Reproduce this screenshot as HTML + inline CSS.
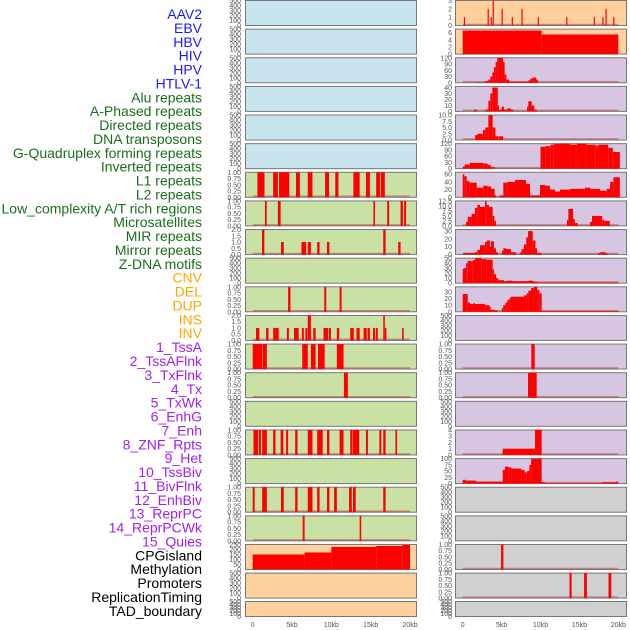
<!DOCTYPE html>
<html><head><meta charset="utf-8"><style>
html,body{margin:0;padding:0;background:#fff;}
svg{display:block;font-family:"Liberation Sans",sans-serif;}
</style></head><body>
<svg id="chart" width="630" height="630" viewBox="0 0 630 630"></svg>
<script>
// ---- labels ----
const labelTexts = ["AAV2","EBV","HBV","HIV","HPV","HTLV-1","Alu repeats","A-Phased repeats","Directed repeats","DNA transposons","G-Quadruplex forming repeats","Inverted repeats","L1 repeats","L2 repeats","Low_complexity A/T rich regions","Microsatellites","MIR repeats","Mirror repeats","Z-DNA motifs","CNV","DEL","DUP","INS","INV","1_TssA","2_TssAFlnk","3_TxFlnk","4_Tx","5_TxWk","6_EnhG","7_Enh","8_ZNF_Rpts","9_Het","10_TssBiv","11_BivFlnk","12_EnhBiv","13_ReprPC","14_ReprPCWk","15_Quies","CPGisland","Methylation","Promoters","ReplicationTiming","TAD_boundary"];
const labelGroups = [6,13,5,15,5];
const groupColors = ["#1a1aff","#1a6e1a","#ffa500","#a020f0","#000000"];
// ---- x axis ----
const xTicks = [0,5,10,15,20];
const xTickLabels = ["0","5kb","10kb","15kb","20kb"];
// ---- tick label sets ----
const t500 = ["0","100","200","300","400","500"];
const t1 = ["0.00","0.25","0.50","0.75","1.00"];
const t2 = ["0.0","0.5","1.0","1.5","2.0"];
// ---- left column series [startKb, endKb, value] ----
const L6 = [[0.6,1.5,1],[2.6,3.2,1],[3.35,4.65,1],[5.5,6.0,1],[7.0,7.6,1],[9.2,9.7,1],[10.5,10.9,1],[12.8,13.6,1],[14.4,14.9,1],[15.7,16.2,1],[16.3,16.8,1]];
const L7 = [[1.56,1.78,1],[3.2,3.55,1],[15.35,15.55,1],[17.1,17.35,1],[18.8,19.1,1],[19.25,19.5,1]];
const L8 = [[1.18,1.48,2],[3.6,3.95,1],[6.2,6.8,1],[7.0,7.4,1],[8.2,8.5,1],[9.45,9.75,1],[16.6,16.9,2],[18.5,18.8,1]];
const L10 = [[4.5,4.8,1],[9.1,9.35,1],[11.05,11.3,1]];
const L11 = [[0.42,0.85,1],[1.7,2.0,1],[2.6,3.3,1],[4.35,4.6,1],[5.25,5.85,1],[6.25,6.5,1],[6.7,6.95,1],[7.0,7.4,2],[7.7,8.0,1],[9.0,9.6,1],[9.7,9.95,1],[10.7,11.0,1],[12.4,12.85,1],[13.2,13.6,1],[14.1,14.5,1],[14.6,14.9,1],[15.3,15.55,1],[15.65,15.9,1],[16.6,16.8,2],[16.8,17.0,1],[19.0,19.2,1]];
const L12 = [[0,1.2,1],[1.25,1.8,1],[6.3,7.0,1],[7.4,8.0,1],[8.3,9.15,1],[10.7,11.55,1]];
const L13 = [[11.6,12.1,1]];
const L15 = [[0.1,0.7,1],[0.8,1.05,1],[1.2,1.8,1],[2.6,2.9,1],[3.55,3.9,1],[4.25,4.5,1],[5.4,5.7,1],[7.0,7.6,1],[8.2,8.9,1],[9.45,9.75,1],[11.05,11.55,1],[12.4,12.7,1],[12.75,13.55,1],[14.4,14.65,1],[16.1,16.35,1],[16.6,16.9,1],[18.15,18.35,1]];
const L17 = [[0,0.25,1],[1.2,1.8,1],[3.6,3.95,1],[5.4,5.7,1],[7.0,7.6,1],[8.2,8.5,1],[9.45,9.75,1],[10.35,10.7,1],[12.25,12.6,1],[12.75,13.1,1],[16.6,16.9,1]];
const L18 = [[6.35,6.6,1],[13.6,13.8,1]];
const L19 = [[0,6.6,150],[6.6,10,170],[10,15.7,225],[15.7,19,235],[19,20,245]];
// ---- right column series ----
const R0 = [[0.15,0.3,1],[3.2,3.35,2],[3.6,3.75,1],[3.85,4.0,3],[5.0,5.15,2],[6.3,6.45,1],[7.55,7.7,2],[9.65,9.8,1],[13.3,13.45,1],[16.85,17.0,1],[17.95,18.1,1],[18.35,18.5,2],[19.35,19.5,1]];
const R1 = [[0,10.15,6.6],[10.15,20,5.5]];
const R2 = [[1.84,2.1,3],[2.61,2.91,3],[2.91,3.3,8],[3.3,3.55,15],[3.55,3.81,30],[3.81,4.02,50],[4.02,4.24,75],[4.24,4.45,100],[4.45,5.18,120],[5.18,5.39,100],[5.39,5.61,40],[5.61,5.99,15],[5.99,8.44,5],[8.44,8.69,12],[8.69,8.95,20],[8.95,9.46,25],[9.46,9.68,15]];
const R3 = [[1.45,1.8,3],[2.9,3.3,3],[3.3,3.55,18],[3.55,3.81,30],[3.81,4.5,40],[4.5,4.66,10],[4.66,5.0,3],[5.0,5.3,8],[5.3,5.7,3],[5.73,6.17,5],[6.17,6.5,3],[8.27,8.44,8],[8.44,8.87,17],[8.87,9.2,10],[9.2,9.5,3]];
const R4 = [[1.6,1.9,2],[1.9,2.6,2.5],[2.6,2.9,4],[2.9,3.3,5],[3.3,3.85,10],[3.85,4.2,5],[4.2,4.6,1.5],[4.66,5.2,1.5]];
const R5 = [[0,0.25,10],[0.25,0.9,20],[0.9,2.65,28],[2.65,3.2,25],[3.2,3.6,18],[3.6,4.1,8],[10,10.6,105],[10.6,11.3,108],[11.3,11.7,115],[11.7,13.8,120],[13.8,14.7,115],[14.7,15.9,120],[15.9,17.1,115],[17.1,17.45,110],[17.45,18.7,115],[18.7,19.3,100],[19.3,20.2,80]];
const R6 = [[0,0.21,60],[0.21,0.51,55],[0.51,0.85,42],[0.85,1.8,38],[1.8,2.65,25],[2.65,3.21,30],[3.21,3.64,28],[3.64,4.11,22],[4.11,4.28,5],[4.79,5.22,5],[5.22,5.74,38],[5.74,6.72,40],[6.72,8.14,45],[8.14,8.65,35],[8.65,9.94,5],[9.94,10.58,32],[10.58,11.22,30],[11.22,11.87,20],[11.87,12.51,15],[12.51,13.8,20],[13.8,15.72,22],[15.72,16.37,25],[16.37,17.65,22],[17.65,18.51,17],[18.51,18.94,22],[18.94,19.37,40],[19.37,20.2,52]];
const R7 = [[0.42,0.64,2],[0.64,1.15,4.5],[1.15,1.58,6],[1.58,1.88,9],[1.88,2.22,10.5],[2.22,2.87,9.5],[2.87,3.08,12.5],[3.08,3.38,10.5],[3.38,3.85,9.5],[3.85,4.07,5],[4.07,4.28,2.5],[13.4,13.58,3],[13.58,14.18,8.5],[14.18,14.4,3.5],[14.4,14.78,1.5],[16.36,16.62,2],[16.62,17.94,5],[17.94,18.2,3],[18.2,18.9,2.5]];
const R8 = [[0.08,1.58,2],[1.58,1.88,3],[1.88,2.22,6],[2.22,2.87,12],[2.87,3.08,16],[3.08,3.5,18],[3.5,3.63,10],[3.63,4.02,17],[4.02,4.28,8],[4.28,4.5,3],[5.05,5.22,5],[5.22,5.57,8],[5.57,6.2,7],[6.2,6.85,3],[7.4,7.57,3],[7.57,7.87,7],[7.87,8.17,13],[8.17,8.4,22],[8.4,9.0,30],[9.0,9.35,18],[9.35,9.56,8],[9.56,10.15,2],[17.4,17.7,2],[17.7,18.3,3],[18.3,18.6,2]];
const R9 = [[0,0.1,28],[0.1,0.43,30],[0.43,0.64,40],[0.64,0.94,45],[0.94,1.28,44],[1.28,1.58,46],[1.58,2.45,50],[2.45,3.08,48],[3.08,3.85,47],[3.85,4.02,28],[4.02,4.28,18],[4.28,4.58,10],[4.58,5.31,6],[5.31,5.66,4],[5.66,6.43,5],[6.43,8.44,4],[8.44,9.08,5],[9.08,9.6,3],[9.6,20,1.5]];
const R10 = [[0,0.64,27],[0.64,0.94,14],[0.94,1.37,12],[1.37,1.58,13],[1.58,2.87,12],[2.87,3.42,10],[3.42,3.59,8],[3.59,4.11,3],[4.11,4.5,2],[5.05,5.22,6],[5.22,5.48,10],[5.48,5.74,14],[5.74,6.0,18],[6.0,6.2,21],[6.2,7.88,23],[7.88,8.22,25],[8.22,8.44,28],[8.44,8.78,32],[8.78,9.16,36],[9.16,9.6,38],[9.6,9.85,33],[9.85,10.15,28],[10.15,20,1]];
const R12 = [[8.82,9.25,1]];
const R13 = [[8.39,9.51,1]];
const R15 = [[5.14,9.29,1],[9.29,10.15,4]];
const R16 = [[0,0.4,15],[0.4,1.7,12],[1.7,5.14,8],[5.14,5.44,55],[5.44,5.85,68],[5.85,6.28,65],[6.28,7.5,60],[7.5,7.94,55],[7.94,8.24,45],[8.24,8.58,50],[8.58,8.8,75],[8.8,10.15,100],[10.15,10.6,5],[10.6,17.9,2],[17.9,19.7,5],[19.7,20,8]];
const R19 = [[4.93,5.23,1]];
const R20 = [[13.73,14.0,1],[15.6,15.96,1],[18.74,19.1,1]];

const leftCfg = [
 [null,500,t500,"#c8e4ec"],[null,500,t500,"#c8e4ec"],[null,500,t500,"#c8e4ec"],[null,500,t500,"#c8e4ec"],[null,500,t500,"#c8e4ec"],[null,500,t500,"#c8e4ec"],
 [L6,1,t1,"#c9e1a4"],[L7,1,t1,"#c9e1a4"],[L8,2,t2,"#c9e1a4"],[null,500,t500,"#c9e1a4"],[L10,1,t1,"#c9e1a4"],[L11,2,t2,"#c9e1a4"],[L12,1,t1,"#c9e1a4"],[L13,1,t1,"#c9e1a4"],[null,500,t500,"#c9e1a4"],
 [L15,1,t1,"#c9e1a4"],[null,500,t500,"#c9e1a4"],[L17,1,t1,"#c9e1a4"],[L18,1,t1,"#c9e1a4"],
 [L19,250,["0","50","100","150","200","250"],"#fdd09e"],[null,500,t500,"#fdd09e"],[null,500,t500,"#fdd09e"]
];
const P="#d6c6e1", G="#d0d0d0";
const rightCfg = [
 [R0,3,["0","1","2","3"],"#fdd09e"],[R1,7,["0","2","4","6"],"#fdd09e"],
 [R2,120,["0","30","60","90","120"],P],[R3,42,["0","10","20","30","40"],P],[R4,10,["0.0","2.5","5.0","7.5","10.0"],P],
 [R5,120,["0","30","60","90","120"],P],[R6,65,["0","20","40","60"],P],[R7,12.5,["0.0","2.5","5.0","7.5","10.0","12.5"],P],
 [R8,32,["0","10","20","30"],P],[R9,50,["0","10","20","30","40","50"],P],[R10,38,["0","10","20","30"],P],
 [null,500,t500,P],[R12,1,t1,P],[R13,1,t1,P],[null,500,t500,P],
 [R15,4,["0","1","2","3","4"],P],[R16,100,["0","25","50","75","100"],P],
 [null,500,t500,G],[null,500,t500,G],[R19,1,t1,G],[R20,1,t1,G],[null,500,t500,G]
];
const NS="http://www.w3.org/2000/svg";
const svg=document.getElementById('chart');
function mk(tag,attrs,parent){const e=document.createElementNS(NS,tag);for(const k in attrs)e.setAttribute(k,attrs[k]);(parent||svg).appendChild(e);return e;}
// labels
let li=0;
labelGroups.forEach((n,g)=>{for(let k=0;k<n;k++){const t=mk('text',{x:202,y:(19+li*13.88).toFixed(1),'text-anchor':'end','font-size':'14',fill:groupColors[g]});


t.textContent=labelTexts[li];li++;}});
function rowTop(i){return i<21?0.5+i*28.63:601.5;}
function rowH(i){return i<21?25:15;}
function drawCol(cfg,px0,px1,x0,x20,tickX,col){
 const xs=kb=>x0+(x20-x0)*kb/20;
 cfg.forEach((c,i)=>{
  const [data,ymax,ticks,bg]=c;const top=rowTop(i),h=rowH(i);
  const g=mk('g',{});
  
  
  mk('rect',{x:px0,y:top,width:px1-px0,height:h,fill:bg,stroke:'#777','stroke-width':1},g);
  const ys=v=>top+h-h*v/ymax;
  if(data){
   mk('line',{x1:xs(0),x2:xs(20),y1:top+h-1,y2:top+h-1,stroke:'rgba(190,60,60,0.55)','stroke-width':1.5},g);
   data.forEach(d=>{const r=mk('rect',{x:xs(d[0]).toFixed(2),y:ys(d[2]).toFixed(2),width:Math.max(1.2,xs(d[1])-xs(d[0])).toFixed(2),height:(top+h-ys(d[2])).toFixed(2),fill:'#ff0000'},g);
    
    });
  }
  const tmax=parseFloat(ticks[ticks.length-1]);
  ticks.forEach(tl=>{const v=parseFloat(tl);const yy=top+h-h*v/ymax;
   const t=mk('text',{x:tickX,y:(yy+2.5).toFixed(1),'text-anchor':'end','font-size':'7',fill:'#555'},g);
   
   
   t.textContent=tl;});
 });
 xTicks.forEach((v,k)=>{const t=mk('text',{x:xs(v),y:627,'text-anchor':'middle','font-size':'7',fill:'#555'});
  
  
  t.textContent=xTickLabels[k];});
}
drawCol(leftCfg,245.5,416.5,252.7,410,241,'left');
drawCol(rightCfg,455.5,626.5,462.7,618.3,452,'right');
</script>
</body></html>
